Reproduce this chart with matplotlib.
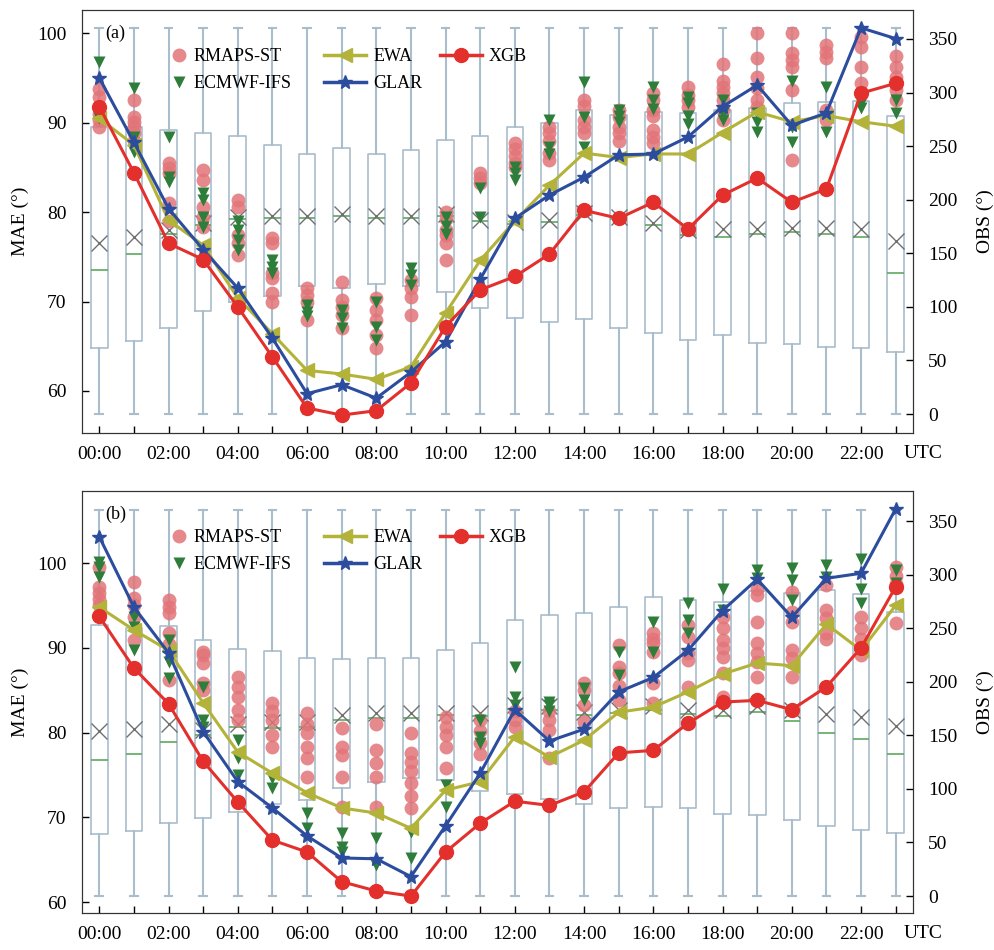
import numpy as np
import matplotlib
matplotlib.use("Agg")
import matplotlib.pyplot as plt
from matplotlib.lines import Line2D

plt.rcParams['font.family'] = ['Liberation Serif', 'DejaVu Serif']
plt.rcParams['mathtext.fontset'] = 'stix'

hours = np.arange(24)
hour_labels = ['%02d:00' % h if h % 2 == 0 else '' for h in hours]

# ---------------- panel (a) ----------------
xgb_a = [91.8, 84.4, 76.5, 74.7, 69.4, 63.8, 58.1, 57.3, 57.8, 60.9, 67.2, 71.3,
         72.8, 75.3, 80.2, 79.3, 81.1, 78.1, 81.9, 83.8, 81.1, 82.6, 93.3, 94.4]
glar_a = [95.0, 87.8, 80.4, 75.8, 71.5, 65.9, 59.7, 60.7, 59.2, 62.1, 65.5, 72.5,
          79.3, 81.9, 83.9, 86.4, 86.5, 88.4, 91.8, 94.2, 89.7, 91.1, 100.6, 99.4]
ewa_a = [90.5, 87.5, 79.1, 76.3, 70.4, 66.4, 62.3, 61.9, 61.3, 62.7, 68.7, 74.6,
         79.0, 83.0, 86.6, 86.1, 86.5, 86.5, 88.9, 91.2, 90.1, 90.8, 90.1, 89.6]
rmaps_a = [[93.8, 92.9, 91.0, 90.3, 89.5], [92.5, 90.6, 90.1, 89.5, 88.8, 88.0],
           [85.5, 84.9, 84.4, 81.0, 79.0], [84.7, 83.6, 80.6, 79.4, 78.3],
           [81.3, 80.6, 77.4, 76.5, 75.2], [77.1, 76.5, 73.2, 72.6, 70.9, 69.9],
           [71.5, 70.7, 69.9, 67.9], [72.2, 70.2, 69.4, 68.5, 67.0],
           [70.4, 69.1, 67.9, 66.3, 64.8], [72.4, 71.5, 70.5, 68.5],
           [80.0, 79.2, 78.0, 77.4, 76.5, 74.6], [84.4, 83.8, 83.3],
           [87.7, 87.0, 86.3, 85.5, 85.0], [89.5, 88.8, 88.0, 86.6, 85.8],
           [92.5, 91.9, 90.3, 89.5, 88.8], [91.4, 90.6, 89.5, 88.8, 88.0],
           [93.3, 92.5, 91.4, 90.8, 89.2, 88.4, 87.7], [94.0, 93.1, 92.5, 91.7],
           [96.6, 94.7, 94.0, 93.3, 92.5, 91.4, 90.3], [100.0, 97.2, 95.1, 93.9, 92.5, 91.7],
           [100.0, 97.8, 97.0, 96.2, 93.6, 85.8], [98.7, 97.9, 97.2, 91.4, 90.3],
           [99.6, 98.5, 96.2, 94.4], [97.5, 96.2, 95.1, 93.6, 92.5]]
ecmwf_a = [[96.8, 90.5], [93.9, 88.4, 86.7], [88.4, 83.9, 83.4], [82.1, 81.3, 79.5, 78.3],
           [79.0, 78.0, 76.9, 75.8], [74.6, 73.9, 73.2], [69.6, 68.8, 68.4],
           [69.1, 68.2, 67.0], [69.9, 67.2, 65.7], [73.8, 73.0, 71.8],
           [79.5, 78.5, 77.5], [82.7, 79.5], [85.0, 84.4, 83.6], [90.3, 87.3, 86.5],
           [94.5, 90.6, 87.3], [91.4, 90.8, 90.1], [94.0, 92.5, 91.5],
           [92.9, 92.2, 90.8, 89.9], [92.5, 91.1, 90.3], [91.1, 90.1, 89.0],
           [94.7, 89.5, 87.8], [94.0, 89.0], [92.2, 91.6], [92.5, 91.1]]
q1_a = [62, 68, 80, 96, 105, 110, 119, 118, 121, 119, 114, 99,
        90, 86, 89, 80, 76, 69, 74, 66, 65, 63, 62, 58]
q3_a = [268, 268, 265, 262, 259, 251, 243, 248, 243, 246, 256, 259,
        268, 272, 284, 279, 282, 281, 284, 286, 290, 291, 292, 278]
med_a = [134, 149, 168, 176, 182, 183, 183, 185, 183, 183, 185, 180,
         177, 179, 186, 182, 176, 167, 165, 168, 170, 168, 165, 132]
mean_a = [160, 165, 172, 178, 184, 185, 185, 187, 185, 185, 187, 181,
          179, 181, 188, 184, 178, 172, 173, 173, 174, 174, 173, 161]

# ---------------- panel (b) ----------------
xgb_b = [93.7, 87.6, 83.4, 76.6, 71.8, 67.3, 65.9, 62.4, 61.3, 60.7, 65.9, 69.3,
         71.9, 71.4, 73.0, 77.6, 77.9, 81.1, 83.6, 83.8, 82.7, 85.4, 90.0, 97.2]
glar_b = [103.1, 94.8, 89.4, 80.1, 74.2, 71.1, 67.8, 65.2, 65.1, 63.0, 69.0, 75.2,
          82.7, 79.0, 80.4, 84.8, 86.5, 89.7, 94.4, 98.1, 93.6, 98.2, 98.8, 106.4]
ewa_b = [94.8, 92.1, 89.7, 83.5, 77.7, 75.2, 72.9, 71.1, 70.5, 68.7, 73.2, 74.2,
         79.5, 77.1, 79.1, 82.4, 83.0, 84.8, 86.9, 88.2, 87.9, 92.8, 89.7, 95.0]
rmaps_b = [[99.5, 97.2, 96.5, 95.8, 95.0], [97.8, 95.9, 95.0, 93.6, 90.9],
           [95.6, 94.8, 94.1, 91.7, 90.5, 86.2], [89.5, 89.1, 88.2, 85.8, 85.0],
           [86.5, 85.4, 84.2, 82.7, 81.5], [83.5, 82.5, 81.5, 79.7, 78.3],
           [82.3, 81.0, 79.9, 78.3, 77.0, 74.8], [80.5, 78.3, 77.3, 74.8, 71.2],
           [81.0, 77.9, 76.4, 74.8, 71.2], [79.9, 77.6, 76.5, 75.5, 74.0, 72.5, 71.1],
           [81.8, 80.6, 79.7, 78.3, 75.8], [81.5, 80.2, 78.8, 77.5],
           [82.5, 81.5, 80.6], [82.5, 81.5, 80.3, 77.0], [85.8, 85.0, 83.2, 81.2],
           [90.3, 87.7, 87.0, 85.5, 83.8], [91.7, 91.0, 90.6, 89.5, 85.8, 83.5],
           [92.7, 91.3, 89.4, 88.6, 85.4], [93.6, 92.3, 90.9, 90.0, 88.9, 87.0, 84.2],
           [97.0, 96.2, 93.0, 90.6, 89.4, 88.3, 86.5], [96.6, 94.2, 93.0, 89.7, 88.8, 86.5],
           [97.4, 94.5, 93.5, 91.7, 91.0], [93.6, 92.3, 91.0, 89.1],
           [99.5, 98.5, 97.5, 92.9]]
ecmwf_b = [[100.1, 99.5, 98.3], [93.6, 92.5, 89.7], [90.9, 88.3, 86.4], [85.4, 81.5, 80.7],
           [79.1, 77.0, 75.0], [74.6, 73.4], [70.5, 68.7], [68.1, 66.5, 65.9],
           [67.6, 64.4], [68.3, 65.2], [73.8, 71.2], [81.5, 79.5, 78.8],
           [87.7, 84.2, 83.2], [83.6, 83.2, 82.5], [85.2, 83.8], [89.5, 86.8],
           [93.0, 89.5], [95.3, 93.3, 91.7], [97.0, 94.5], [99.2, 98.2],
           [99.4, 98.0, 95.6], [99.8, 98.3], [100.5, 97.0, 95.3], [99.2, 97.6]]
q1_b = [58, 61, 68, 73, 78, 86, 90, 101, 106, 110, 108, 98,
        95, 91, 86, 82, 83, 82, 77, 76, 71, 65, 62, 59]
q3_b = [253, 250, 252, 239, 231, 229, 222, 221, 222, 222, 230, 236,
        258, 262, 264, 270, 279, 276, 274, 285, 283, 286, 282, 265]
med_b = [127, 133, 144, 150, 158, 157, 158, 164, 166, 166, 169, 168,
         175, 174, 169, 171, 174, 170, 168, 172, 163, 152, 147, 133]
mean_b = [154, 156, 161, 155, 161, 162, 162, 169, 171, 171, 171, 171,
          178, 177, 172, 174, 177, 174, 174, 177, 174, 170, 167, 159]
obs_min, obs_max = 0, 360

c_pink = '#e27479'
c_green = '#2f7d3a'
c_ewa = '#b3b33a'
c_glar = '#2c4d9e'
c_xgb = '#e3302c'
c_box = '#a9bdcc'


def draw_panel(ax, xgb, glar, ewa, rmaps, ecmwf, q1, q3, med, mean, tag, ylim, ylim2):
    ax2 = ax.twinx()
    stats = []
    for i in range(24):
        stats.append(dict(med=med[i], q1=q1[i], q3=q3[i], whislo=obs_min,
                          whishi=obs_max, mean=mean[i], fliers=[]))
    ax2.bxp(stats, positions=hours, widths=0.48, capwidths=0.22, showmeans=True,
            showfliers=False, manage_ticks=False,
            boxprops=dict(color=c_box, lw=1.2),
            whiskerprops=dict(color=c_box, lw=1.5),
            capprops=dict(color=c_box, lw=1.5),
            medianprops=dict(color='#5fa860', lw=1.2),
            meanprops=dict(marker='x', markeredgecolor='#707070', markersize=11,
                           markeredgewidth=1.0))
    ax2.set_ylim(*ylim2)
    ax2.set_yticks(np.arange(0, 351, 50))
    ax2.set_ylabel('OBS (°)', fontsize=14, labelpad=14)

    for i in range(24):
        ax.plot([hours[i]] * len(rmaps[i]), rmaps[i], 'o', color=c_pink, ms=10,
                alpha=0.85, mec='none', zorder=2)
    for i in range(24):
        ax.plot([hours[i]] * len(ecmwf[i]), ecmwf[i], 'v', color=c_green, ms=9,
                mec='none', zorder=3)
    ax.plot(hours, ewa, '-<', color=c_ewa, lw=2.2, ms=10, zorder=4)
    ax.plot(hours, glar, '-*', color=c_glar, lw=2.2, ms=10, zorder=5)
    ax.plot(hours, xgb, '-o', color=c_xgb, lw=2.2, ms=10, zorder=6)

    ax.set_zorder(ax2.get_zorder() + 1)
    ax.patch.set_visible(False)
    ax.set_xlim(-0.5, 23.5)
    ax.set_ylim(*ylim)
    ax.set_yticks(np.arange(60, 101, 10))
    ax.set_xticks(hours)
    ax.set_xticklabels(hour_labels)
    ax.set_ylabel('MAE (°)', fontsize=14, labelpad=6)
    for a in (ax, ax2):
        a.tick_params(direction='in', labelsize=14, length=5, width=1)
        for s in a.spines.values():
            s.set_color('#333333')
    ax.tick_params(axis='y', pad=11)
    ax.tick_params(axis='x', pad=9)
    ax2.tick_params(axis='y', pad=11)
    ax.text(0.028, 0.945, tag, transform=ax.transAxes, fontsize=13, va='center')
    ax.text(1.012, -0.028, 'UTC', transform=ax.transAxes, fontsize=14,
            ha='center', va='top')

    h_pts = [
        Line2D([], [], ls='none', marker='o', color=c_pink, ms=10, mec='none', alpha=0.85),
        Line2D([], [], ls='none', marker='v', color=c_green, ms=9, mec='none'),
    ]
    leg1 = ax.legend(h_pts, ['RMAPS-ST', 'ECMWF-IFS'], frameon=False, fontsize=13,
                     loc='upper left', bbox_to_anchor=(0.088, 0.948),
                     handlelength=0.8, handletextpad=0.4, labelspacing=0.55)
    ax.add_artist(leg1)
    h_lines = [
        Line2D([], [], ls='-', marker='<', color=c_ewa, lw=2.5, ms=10),
        Line2D([], [], ls='-', marker='*', color=c_glar, lw=2.5, ms=10),
        Line2D([], [], ls='-', marker='o', color=c_xgb, lw=2.5, ms=10),
    ]
    ax.legend(h_lines, ['EWA', 'GLAR', 'XGB'], ncol=2, frameon=False, fontsize=13,
              loc='upper left', bbox_to_anchor=(0.272, 0.948),
              handlelength=2.3, columnspacing=1.0, handletextpad=0.4,
              labelspacing=0.55)


fig = plt.figure(figsize=(9.95, 9.5), dpi=100)
ax_a = fig.add_axes([0.0824, 0.5442, 0.8352, 0.4453])
ax_b = fig.add_axes([0.0824, 0.0389, 0.8352, 0.4442])

draw_panel(ax_a, xgb_a, glar_a, ewa_a, rmaps_a, ecmwf_a, q1_a, q3_a, med_a, mean_a,
           '(a)', (55.3, 102.6), (-17.7, 377))
draw_panel(ax_b, xgb_b, glar_b, ewa_b, rmaps_b, ecmwf_b, q1_b, q3_b, med_b, mean_b,
           '(b)', (58.7, 108.5), (-15.9, 378))

fig.savefig('out.png', dpi=100)
